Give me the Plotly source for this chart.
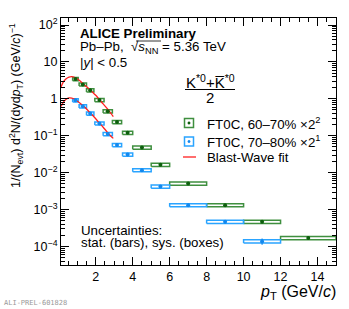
import plotly.graph_objects as go

# ---------------- data ----------------
bin_lo = [0.75, 1.1, 1.5, 1.95, 2.4, 2.9, 3.45, 4.0, 5.0, 6.0, 8.0, 10.0, 12.0]
bin_hi = [1.05, 1.5, 1.9, 2.45, 2.9, 3.4, 4.0, 5.0, 6.0, 8.0, 10.0, 12.0, 15.0]

green_y = [3.45, 2.46, 1.70, 0.93, 0.46, 0.236, 0.12, 0.048, 0.0163, 0.0051, 0.00132, 0.00047, 0.00017]
green_stat = [0.01, 0.01, 0.01, 0.01, 0.01, 0.015, 0.02, 0.02, 0.03, 0.04, 0.06, 0.08, 0.10]
green_sys = [0.10, 0.10, 0.10, 0.10, 0.10, 0.10, 0.10, 0.10, 0.10, 0.10, 0.10, 0.10, 0.10]

blue_y = [0.91, 0.63, 0.40, 0.216, 0.112, 0.056, 0.031, 0.0117, 0.0042, 0.00132, 0.00047, 0.000138]
blue_stat = [0.01, 0.01, 0.01, 0.01, 0.015, 0.02, 0.02, 0.03, 0.04, 0.06, 0.10, 0.20]
blue_sys = [0.10, 0.10, 0.10, 0.10, 0.10, 0.10, 0.10, 0.10, 0.10, 0.10, 0.10, 0.10]

fit_green_pt = [0.12, 0.25, 0.4, 0.55, 0.7, 0.85, 1.0, 1.2, 1.4, 1.6, 1.8, 2.0, 2.2, 2.4, 2.6, 2.8, 2.95]
fit_green_y = [2.1, 2.9, 3.5, 3.9, 4.0, 3.85, 3.5, 2.9, 2.35, 1.95, 1.55, 1.25, 0.95, 0.73, 0.56, 0.42, 0.33]
fit_blue_pt = [0.12, 0.25, 0.4, 0.55, 0.7, 0.85, 1.0, 1.2, 1.4, 1.6, 1.8, 2.0, 2.2, 2.4, 2.6, 2.8, 2.95]
fit_blue_y = [0.62, 0.82, 0.98, 1.06, 1.05, 0.98, 0.88, 0.73, 0.60, 0.47, 0.37, 0.29, 0.22, 0.17, 0.13, 0.10, 0.085]

y_tick_vals = [1e-4, 1e-3, 1e-2, 1e-1, 1, 10, 100]
y_tick_text = ["10<sup>−4</sup>", "10<sup>−3</sup>", "10<sup>−2</sup>", "10<sup>−1</sup>", "1", "10", "10<sup>2</sup>"]
x_tick_vals = [2, 4, 6, 8, 10, 12, 14]

legend_green = "FT0C, 60–70% ×2<sup>2</sup>"
legend_blue = "FT0C, 70–80% ×2<sup>1</sup>"
legend_fit = "Blast-Wave fit"

GREEN_BOX = "#3f8f3f"
GREEN_MK = "#0d5f0d"
BLUE_BOX = "#2aa4ff"
BLUE_MK = "#1188ee"
RED = "#ff2020"
FONT = "Liberation Sans, Arial, sans-serif"


def box_path(y, sys):
    xs, ys = [], []
    for i, v in enumerate(y):
        lo, hi = bin_lo[i], bin_hi[i]
        ylo, yhi = v * (1 - sys[i]), v * (1 + sys[i])
        xs += [lo, hi, hi, lo, lo, None]
        ys += [ylo, ylo, yhi, yhi, ylo, None]
    return xs, ys


def centers(n):
    return [(bin_lo[i] + bin_hi[i]) / 2 for i in range(n)]


fig = go.Figure()

# systematic boxes
gx, gy = box_path(green_y, green_sys)
fig.add_trace(go.Scatter(x=gx, y=gy, mode="lines", line=dict(color=GREEN_BOX, width=1.5),
                         showlegend=False, hoverinfo="skip"))
bx, by = box_path(blue_y, blue_sys)
fig.add_trace(go.Scatter(x=bx, y=by, mode="lines", line=dict(color=BLUE_BOX, width=1.5),
                         showlegend=False, hoverinfo="skip"))

# fits
fig.add_trace(go.Scatter(x=fit_green_pt, y=fit_green_y, mode="lines", line=dict(color=RED, width=1.3),
                         line_shape="spline", showlegend=False))
fig.add_trace(go.Scatter(x=fit_blue_pt, y=fit_blue_y, mode="lines", line=dict(color=RED, width=1.3),
                         line_shape="spline", showlegend=False))

# points with stat errors
fig.add_trace(go.Scatter(x=centers(len(green_y)), y=green_y, mode="markers",
                         marker=dict(color=GREEN_MK, size=4),
                         error_y=dict(type="data", array=[v * r for v, r in zip(green_y, green_stat)],
                                      color=GREEN_MK, thickness=1, width=0),
                         showlegend=False))
fig.add_trace(go.Scatter(x=centers(len(blue_y)), y=blue_y, mode="markers",
                         marker=dict(color=BLUE_MK, size=4),
                         error_y=dict(type="data", array=[v * r for v, r in zip(blue_y, blue_stat)],
                                      color=BLUE_MK, thickness=1, width=0),
                         showlegend=False))

L, R, T, B = 61, 13, 18, 44
W, H = 349, 309
PW, PH = W - L - R, H - T - B


def px(x):
    return (x - L) / PW


def py(y):
    return (H - B - y) / PH


minor_y = [m * 10 ** e for e in range(-5, 3) for m in range(2, 10)]

fig.update_layout(
    width=W, height=H,
    margin=dict(l=L, r=R, t=T, b=B, pad=0),
    paper_bgcolor="white", plot_bgcolor="white",
    font=dict(family=FONT, size=12, color="black"),
    showlegend=False,
    xaxis=dict(range=[0.12, 15.0], showgrid=False, zeroline=False,
               showline=True, linecolor="black", linewidth=1, mirror="allticks",
               ticks="inside", ticklen=8, tickcolor="black",
               tickvals=x_tick_vals, tickfont=dict(size=12.5),
               minor=dict(ticks="inside", ticklen=4, dtick=0.5, tick0=0, tickcolor="black", showgrid=False)),
    yaxis=dict(type="log", range=[-4.50, 2.19], showgrid=False, zeroline=False,
               showline=True, linecolor="black", linewidth=1, mirror="allticks",
               ticks="inside", ticklen=8, tickcolor="black",
               tickvals=y_tick_vals, ticktext=y_tick_text, tickfont=dict(size=12.5),
               minor=dict(ticks="inside", ticklen=4, tickmode="array", tickvals=minor_y,
                          tickcolor="black", showgrid=False)),
)

TXT = 13.3
ann = []
ann.append(dict(text="<b>ALICE Preliminary</b>", x=px(78), y=py(33), xanchor="left", yanchor="middle",
                font=dict(size=TXT)))
ann.append(dict(text="Pb–Pb,  √<i>s</i><sub>NN</sub> = 5.36 TeV", x=px(78), y=py(47), xanchor="left",
                yanchor="middle", font=dict(size=TXT)))
ann.append(dict(text="|<i>y</i>| < 0.5", x=px(78), y=py(62), xanchor="left", yanchor="middle",
                font=dict(size=TXT)))
ann.append(dict(text="K<sup>*0</sup>+K\u0305<sup>*0</sup>", x=px(210), y=py(81), xanchor="center",
                yanchor="middle", font=dict(size=15)))
ann.append(dict(text="2", x=px(210), y=py(97), xanchor="center", yanchor="middle", font=dict(size=15)))
ann.append(dict(text="Uncertainties:", x=px(79), y=py(230), xanchor="left", yanchor="middle",
                font=dict(size=TXT)))
ann.append(dict(text="stat. (bars), sys. (boxes)", x=px(79), y=py(242), xanchor="left", yanchor="middle",
                font=dict(size=TXT)))
ann.append(dict(text=legend_green, x=px(205), y=py(123), xanchor="left", yanchor="middle",
                font=dict(size=TXT)))
ann.append(dict(text=legend_blue, x=px(205), y=py(141.5), xanchor="left", yanchor="middle",
                font=dict(size=TXT)))
ann.append(dict(text=legend_fit, x=px(205), y=py(157), xanchor="left", yanchor="middle",
                font=dict(size=TXT)))
ann.append(dict(text="<i>p</i><sub>T</sub> (GeV/<i>c</i>)", x=px(338), y=py(292), xanchor="right",
                yanchor="middle", font=dict(size=16)))
ann.append(dict(text="1/(N<sub>evt</sub>) d<sup>2</sup>N/(dyd<i>p</i><sub>T</sub>) (GeV/<i>c</i>)<sup>−1</sup>",
                x=px(16), y=py(106), xanchor="center", yanchor="middle", textangle=-90,
                font=dict(size=12.5)))
ann.append(dict(text="ALI-PREL-601828", x=px(2), y=py(303), xanchor="left", yanchor="middle",
                font=dict(size=7, color="#999999", family="DejaVu Sans Mono, monospace")))
for a in ann:
    a.update(xref="paper", yref="paper", showarrow=False)
fig.update_layout(annotations=ann)

# fraction bar
fig.add_shape(type="line", xref="paper", yref="paper", x0=px(185), x1=px(235), y0=py(89.5), y1=py(89.5),
              line=dict(color="black", width=1))
# overline of the square root
fig.add_shape(type="line", xref="paper", yref="paper", x0=px(136), x1=px(161), y0=py(41), y1=py(41),
              line=dict(color="black", width=0.8))

# legend symbols (decoration in paper coordinates)
for yc, edge, dot in [(123, GREEN_BOX, GREEN_MK), (141.5, BLUE_BOX, BLUE_MK)]:
    fig.add_shape(type="rect", xref="paper", yref="paper", x0=px(184.5), x1=px(193.5),
                  y0=py(yc + 4.5), y1=py(yc - 4.5), line=dict(color=edge, width=1.5))
    fig.add_shape(type="circle", xref="paper", yref="paper", x0=px(187.8), x1=px(190.2),
                  y0=py(yc + 1.2), y1=py(yc - 1.2), line=dict(color=dot, width=0.5), fillcolor=dot)
fig.add_shape(type="line", xref="paper", yref="paper", x0=px(183), x1=px(196), y0=py(157), y1=py(157),
              line=dict(color=RED, width=1.3))

fig.write_html("out.html", config={"displayModeBar": False},
               post_script="document.body.style.margin='0';document.body.style.padding='0';")
